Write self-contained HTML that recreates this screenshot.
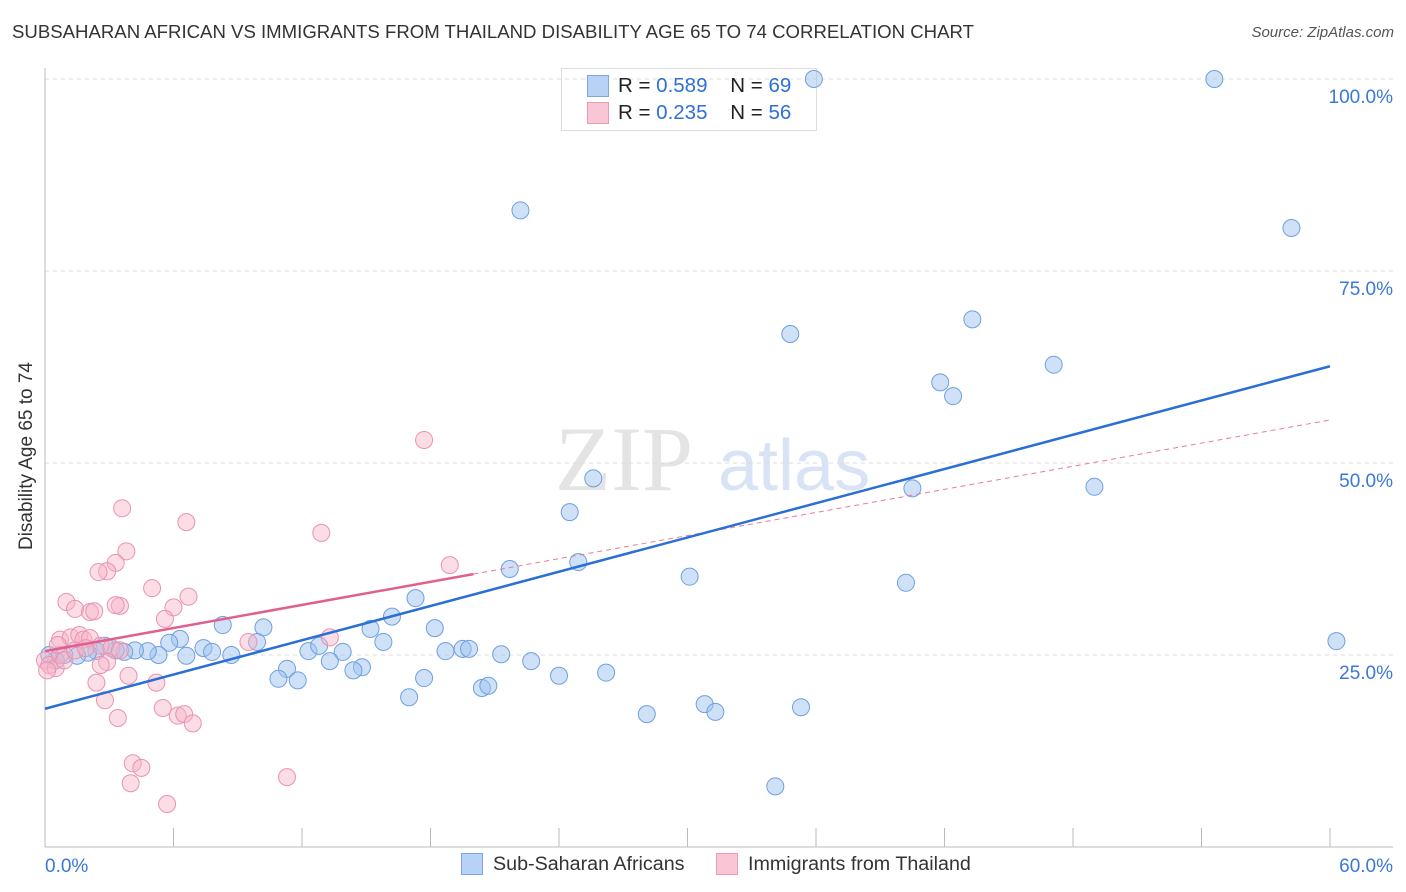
<!DOCTYPE html>
<html><head><meta charset="utf-8"><style>
body{margin:0;background:#fff;font-family:"Liberation Sans",sans-serif;}
#wrap{position:relative;width:1406px;height:892px;overflow:hidden;}
.t{position:absolute;white-space:nowrap;}
</style></head><body>
<div id="wrap">
<div class="t" style="left:12px;top:21px;font-size:18.6px;color:#333;">SUBSAHARAN AFRICAN VS IMMIGRANTS FROM THAILAND DISABILITY AGE 65 TO 74 CORRELATION CHART</div>
<div class="t" style="right:12px;top:24px;font-size:15px;color:#555;font-style:italic;">Source: ZipAtlas.com</div>
<div style="position:absolute;left:561px;top:68px;width:254px;height:61px;border:1px solid #ddd;background:#fff;"></div>
<svg id="svg" width="1406" height="892" style="position:absolute;left:0;top:0"></svg>
<div class="t" style="left:27px;top:456px;font-size:19px;color:#333;transform:translate(-50%,-50%) rotate(-90deg);">Disability Age 65 to 74</div>
<div style="position:absolute;left:587px;top:75px;width:20px;height:20px;background:#b7d2f5;border:1px solid #7aa7e0;"></div>
<div class="t" style="left:618px;top:74px;font-size:20.5px;color:#222;">R = <span style="color:#2f6fd6">0.589</span>&nbsp;&nbsp;&nbsp;&nbsp;N = <span style="color:#2f6fd6">69</span></div>
<div style="position:absolute;left:587px;top:102px;width:20px;height:20px;background:#f9c6d5;border:1px solid #ee9ab5;"></div>
<div class="t" style="left:618px;top:101px;font-size:20.5px;color:#222;">R = <span style="color:#2f6fd6">0.235</span>&nbsp;&nbsp;&nbsp;&nbsp;N = <span style="color:#2f6fd6">56</span></div>
<div style="position:absolute;left:461px;top:853px;width:20px;height:20px;background:#b7d2f5;border:1px solid #7aa7e0;"></div>
<div class="t" style="left:493px;top:853px;font-size:19.7px;color:#333;">Sub-Saharan Africans</div>
<div style="position:absolute;left:716px;top:853px;width:20px;height:20px;background:#f9c6d5;border:1px solid #ee9ab5;"></div>
<div class="t" style="left:748px;top:853px;font-size:19.7px;color:#333;">Immigrants from Thailand</div>
</div>
<script>
const blueX=[35.9,54.6,22.2,58.2,34.8,43.3,47.1,41.8,42.4,25.6,40.5,49.0,24.5,21.7,24.9,30.1,40.2,17.3,16.2,10.2,8.3,18.2,15.2,6.3,9.9,5.8,7.4,7.8,8.7,6.6,5.3,4.8,4.2,3.7,3.3,2.8,2.4,2.0,1.5,0.9,0.5,0.2,12.3,12.8,13.9,13.3,15.8,18.7,19.5,19.8,21.3,22.7,14.8,14.4,11.3,10.9,11.8,17.7,24.0,26.2,20.4,20.7,17.0,30.8,31.3,28.1,35.3,34.1,60.3];
const blueY=[100,100,82.9,80.6,66.8,68.7,62.8,60.5,58.7,48.0,46.7,46.9,43.6,36.2,37.1,35.2,34.4,32.4,30.0,28.6,28.9,28.5,28.4,27.1,26.7,26.6,25.9,25.4,25.0,24.9,25.0,25.5,25.6,25.4,25.6,26.2,25.5,25.3,24.9,25.0,24.3,25.0,25.5,26.2,25.4,24.2,26.7,25.5,25.8,25.8,25.1,24.2,23.4,23.0,23.2,21.9,21.7,22.0,22.3,22.7,20.7,21.0,19.5,18.6,17.6,17.3,18.2,7.9,26.8];
const pinkX=[3.6,17.7,6.6,12.9,3.8,18.9,3.3,2.9,2.5,5.0,6.7,1.0,1.4,3.5,3.3,6.0,2.1,2.3,5.6,9.5,13.3,0.7,1.2,1.6,1.8,2.1,2.6,3.1,0.0,0.2,0.5,0.1,0.7,0.9,2.9,2.6,5.2,3.9,2.4,2.8,5.5,6.2,6.5,6.9,3.4,4.1,4.5,4.0,11.3,5.7,0.6,1.4,1.9,3.5];
const pinkY=[44.1,53.0,42.3,40.9,38.5,36.7,37.0,35.9,35.8,33.7,32.6,31.9,31.0,31.4,31.5,31.2,30.6,30.7,29.7,26.7,27.3,27.0,27.3,27.6,27.0,27.2,26.2,25.9,24.3,23.7,23.3,23.0,25.0,24.3,24.1,23.7,21.4,22.3,21.4,19.1,18.1,17.1,17.3,16.1,16.8,10.9,10.3,8.3,9.1,5.6,26.3,25.6,25.9,25.6];
const blueTrend=[18.0,62.6];   // y at x=0 and x=60
const pinkTrend=[25.5,55.6];   // y at x=0 and x=60
const pinkSolidEnd=20.0;
const xTicks=[0,6,12,18,24,30,36,42,48,54,60];
const yTicks=[25,50,75,100];
const yTickLabels=["25.0%","50.0%","75.0%","100.0%"];

const NS="http://www.w3.org/2000/svg";
const svg=document.getElementById('svg');
const X=v=>45+v*(1285/60);
const Y=v=>847-v*7.68;
function mk(tag,a){const e=document.createElementNS(NS,tag);for(const k in a)e.setAttribute(k,a[k]);svg.appendChild(e);return e;}

let wm=mk('text',{x:555,y:490,'font-size':92,'font-family':'Liberation Serif,serif',fill:'#e4e4e4'});wm.textContent='ZIP';


let wm2=mk('text',{x:718,y:490,'font-size':72,'font-family':'Liberation Sans,sans-serif',fill:'#d8e4f5'});wm2.textContent='atlas';



yTicks.forEach((t,i)=>{
  const g=mk('line',{x1:45,x2:1393,y1:Y(t),y2:Y(t),stroke:'#ddd','stroke-dasharray':'4,4'});
  
  
  const l=mk('text',{x:1393,y:Y(t)+24,'text-anchor':'end','font-size':19,fill:'#3a78d6','font-family':'Liberation Sans,sans-serif'});
  l.textContent=yTickLabels[i];
  
  
});
let ax=mk('line',{x1:45,x2:45,y1:68,y2:847,stroke:'#bbb'});


let bx=mk('line',{x1:45,x2:1393,y1:847,y2:847,stroke:'#bbb'});


xTicks.forEach(t=>{
  const k=mk('line',{x1:X(t),x2:X(t),y1:828,y2:847,stroke:'#bbb'});
  
  
});
let xl0=mk('text',{x:45,y:872,'font-size':19,fill:'#3a78d6','font-family':'Liberation Sans,sans-serif'});xl0.textContent='0.0%';


let xl1=mk('text',{x:1393,y:872,'text-anchor':'end','font-size':19,fill:'#3a78d6','font-family':'Liberation Sans,sans-serif'});xl1.textContent='60.0%';



blueX.forEach((v,i)=>{
  const c=mk('circle',{cx:X(v),cy:Y(blueY[i]),r:8.5,fill:'rgba(160,195,240,0.5)',stroke:'#6f9fe0','stroke-width':1});
  
  
});
pinkX.forEach((v,i)=>{
  const c=mk('circle',{cx:X(v),cy:Y(pinkY[i]),r:8.5,fill:'rgba(246,180,200,0.45)',stroke:'#eb92b0','stroke-width':1});
  
  
});
const pt=x=>pinkTrend[0]+(pinkTrend[1]-pinkTrend[0])*x/60;
let pd=mk('line',{x1:X(pinkSolidEnd),y1:Y(pt(pinkSolidEnd)),x2:X(60),y2:Y(pinkTrend[1]),stroke:'#e67ba0','stroke-width':1,'stroke-dasharray':'5,4'});


let ps=mk('line',{x1:X(0),y1:Y(pinkTrend[0]),x2:X(pinkSolidEnd),y2:Y(pt(pinkSolidEnd)),stroke:'#e0608d','stroke-width':2.5});


let bt=mk('line',{x1:X(0),y1:Y(blueTrend[0]),x2:X(60),y2:Y(blueTrend[1]),stroke:'#2a6fd6','stroke-width':2.5});


</script>
</body></html>
